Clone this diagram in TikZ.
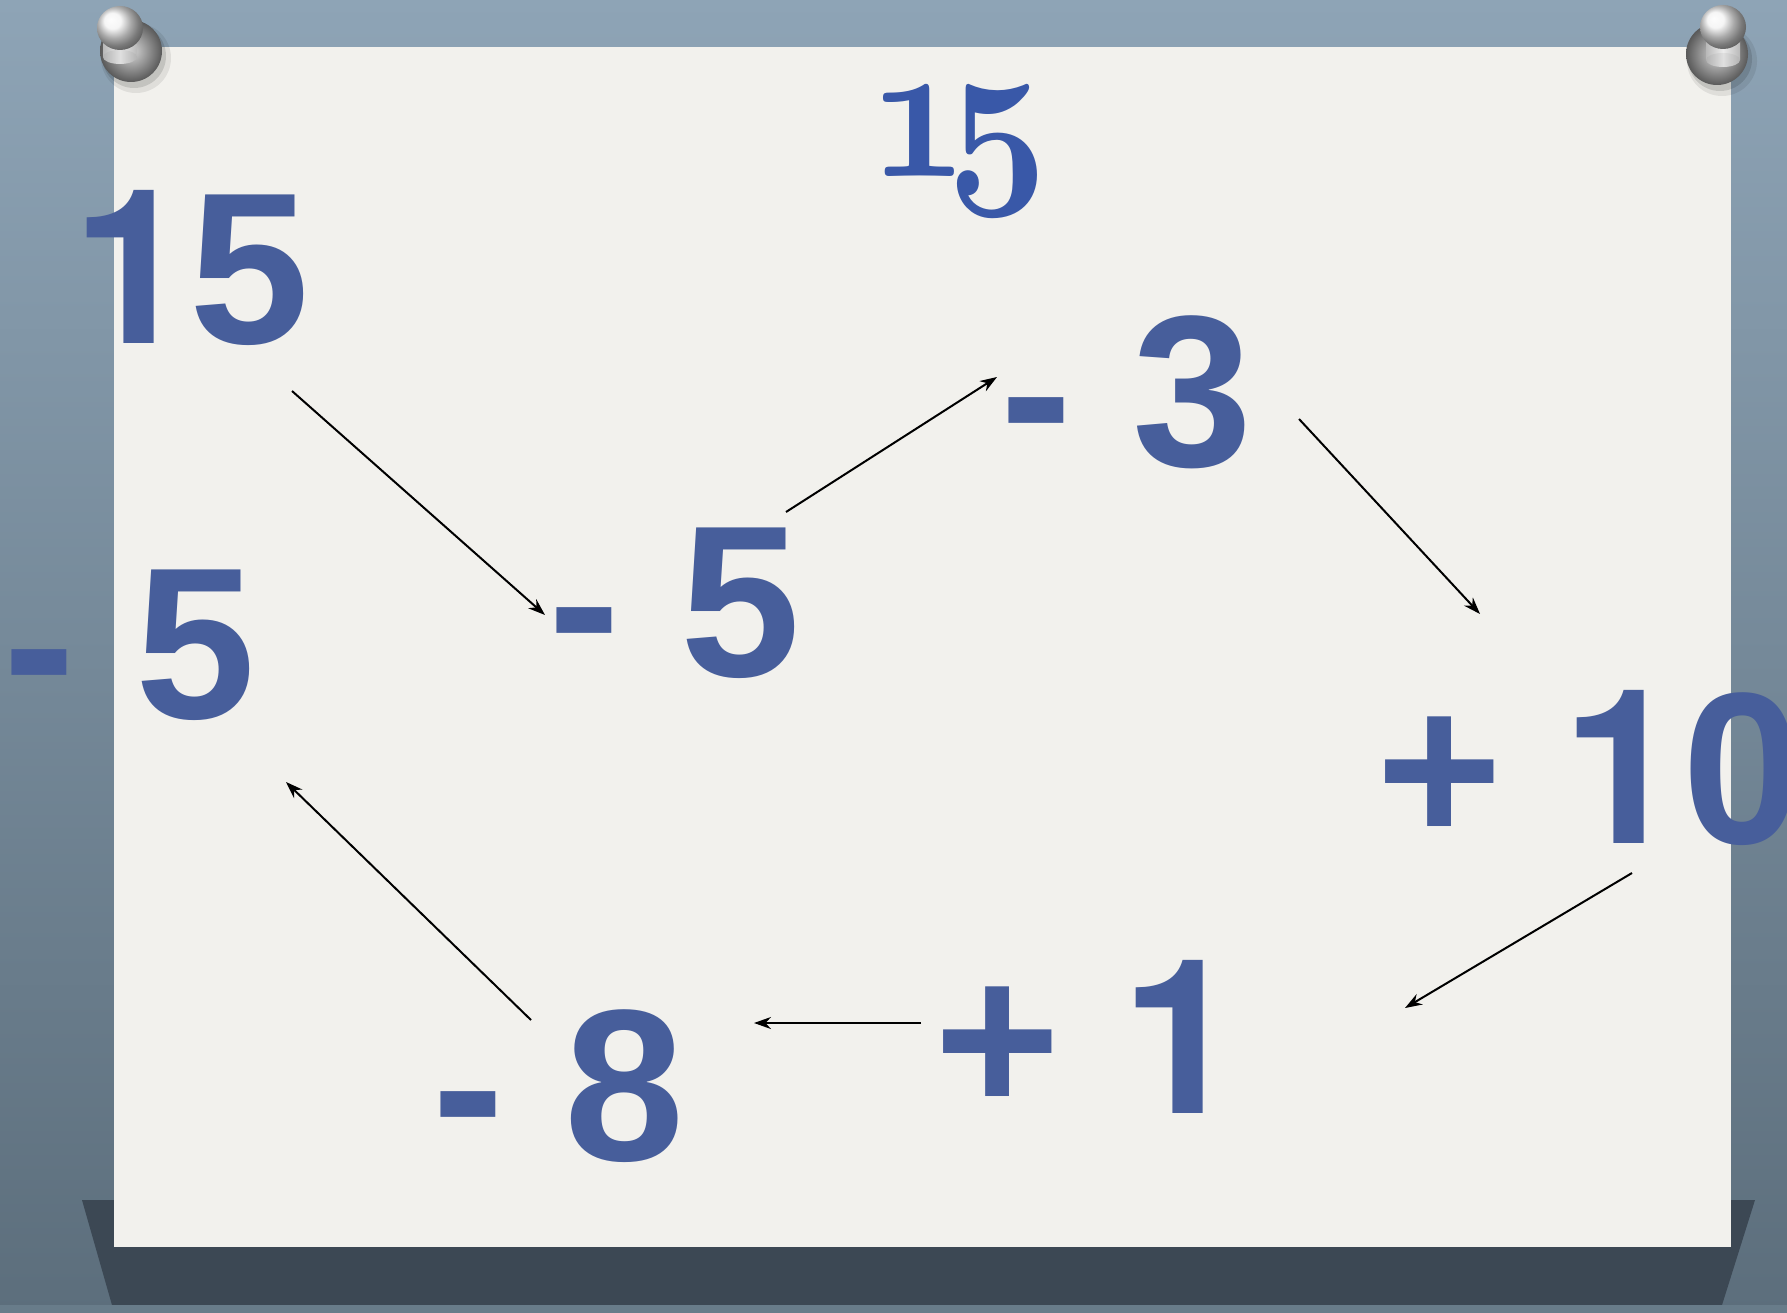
\documentclass[tikz,border=0pt]{standalone}
\usepackage{fontspec}
\newfontfamily\numfam{Liberation Sans}
\newfontfamily\onefam{TeX Gyre Heros}
\usetikzlibrary{arrows.meta}
\definecolor{numblue}{RGB}{71,94,155}
\definecolor{serifblue}{RGB}{57,88,168}
\definecolor{paper}{RGB}{242,241,237}
\definecolor{boardtop}{RGB}{142,164,182}
\definecolor{boardbot}{RGB}{92,110,124}
\definecolor{shadowdark}{RGB}{60,72,84}
\definecolor{boardband}{RGB}{104,124,138}
\newcommand\bignum{\numfam\bfseries\fontsize{216}{216}\selectfont}
\newcommand\one{{\onefam 1}}
\newcommand\oldfig[1]{\scalebox{17.4}[20]{\fontsize{10}{10}\usefont{OML}{cmm}{b}{it}#1}}
\tikzset{
  num/.style={inner sep=0pt, outer sep=0pt, text=numblue, font=\bignum},
  conn/.style={draw=black, line width=2pt, -{Stealth[length=17pt,width=12pt]}},
  pinbase/.style={inner color=gray!30, outer color=gray!70!black},
  pinhead/.style={ball color=gray!10},
}
\begin{document}
\begin{tikzpicture}[x=1pt,y=-1pt]
\useasboundingbox (0,0) rectangle (1787,1313);
% board
\fill[top color=boardtop, bottom color=boardbot] (0,0) rectangle (1787,1313);
\fill[shadowdark] (82,1200) -- (1755,1200) -- (1722,1305) -- (112,1305) -- cycle;
\fill[boardband] (0,1305) rectangle (1787,1313);
% paper
\fill[paper] (114,47) rectangle (1731,1247);
% pins
\foreach \bx/\by/\hx/\hy in {131/51/120/28, 1717/54/1723/27}{
  \fill[black, opacity=0.08] (\bx+5,\by+7) circle (35);
  \fill[black, opacity=0.12] (\bx+3,\by+5) circle (32);
  \shade[pinbase] (\bx,\by) circle (31);
  \shade[left color=gray!55, right color=gray!55, middle color=gray!15]
    (\hx-17,\hy) rectangle (\hx+17,\by+6);
  \shade[left color=gray!60, right color=gray!60, middle color=gray!25]
    (\hx,\by+6) ellipse (17 and 7);
  \shade[pinhead] (\hx,\hy) ellipse (23 and 22);
}
% numbers
\node[inner sep=0pt, text=serifblue, anchor=base] (t15) at (958,177) {\oldfig{1\kern-1.2pt5}};
\node[num, anchor=base] (n15) at (191.5,343) {\one\kern-3pt5};
\node[num, anchor=base] (m5a) at (130,718) {- 5};
\node[num, anchor=base] (m5b) at (675,676) {- 5};
\node[num, anchor=base] (m3) at (1127,466) {- 3};
\node[num, anchor=base west] (p10) at (1376,843) {+ \one0};
\node[num, anchor=base] (p1) at (1088,1113) {+ \one};
\node[num, anchor=base] (m8) at (559,1160) {- 8};
% connectors
\draw[conn] ([shift={(100.5,48)}]n15.base) -- ([shift={(-130,-61)}]m5b.base);
\draw[conn] ([shift={(111,-164)}]m5b.base) -- ([shift={(-130,-89)}]m3.base);
\draw[conn] ([shift={(172,-47)}]m3.base) -- ([shift={(104,-229)}]p10.base west);
\draw[conn] ([shift={(256,30)}]p10.base west) -- ([shift={(317,-105)}]p1.base);
\draw[conn] ([shift={(-167,-90)}]p1.base) -- ([shift={(195,-137)}]m8.base);
\draw[conn] ([shift={(-28,-140)}]m8.base) -- ([shift={(156,64)}]m5a.base);
\end{tikzpicture}
\end{document}
